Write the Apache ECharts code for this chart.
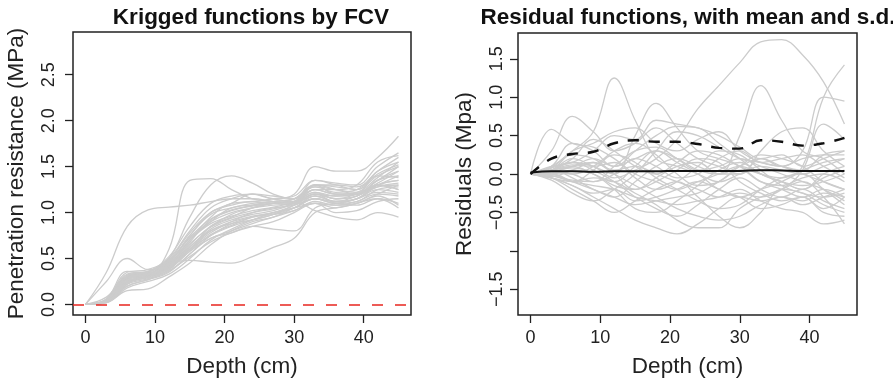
<!DOCTYPE html>
<html><head><meta charset="utf-8">
<script src="https://cdn.jsdelivr.net/npm/echarts@6/dist/echarts.min.js"></script>
<style>html,body{margin:0;padding:0;background:#fff}#c{width:893px;height:383px}</style>
</head><body><div id="c"></div>
<script>
const depth = [0,3,6,9,12,15,18,21,24,27,30,33,36,39,42,45];
const xTicks = [0,10,20,30,40];
const leftYTicks = [0,0.5,1,1.5,2,2.5];
const rightYTicks = [-1.5,-1,-0.5,0,0.5,1,1.5];
const rightYLabels = ['\u22121.5','','\u22120.5','0.0','0.5','1.0','1.5'];

const kriged = [
 [0,0.35,0.85,1.03,1.06,1.08,1.12,1.15,1.15,1.12,1.1,1.2,1.15,1.18,1.3,1.25],
 [0,0.08,0.3,0.32,0.6,1.35,1.37,1.25,1.15,1.12,1.1,1.3,1.25,1.2,1.35,1.45],
 [0,0.05,0.3,0.35,0.5,0.95,1.3,1.4,1.32,1.2,1.15,1.35,1.3,1.25,1.4,1.5],
 [0,0.03,0.22,0.35,0.45,0.48,0.46,0.45,0.52,0.62,0.72,1.0,1.05,1.1,1.2,1.3],
 [0,0.04,0.28,0.33,0.45,0.75,1.0,1.1,1.2,1.15,1.2,1.5,1.45,1.45,1.6,1.83],
 [0,0.03,0.25,0.3,0.42,0.7,0.9,1.05,1.08,1.1,1.12,1.02,0.95,0.92,1.0,0.95],
 [0,0.25,0.5,0.38,0.45,0.6,0.85,0.95,1.05,1.1,1.12,1.3,1.2,1.2,1.35,1.4],
 [0,0.03,0.2,0.27,0.35,0.55,0.72,0.78,0.85,0.82,0.8,1.05,1.1,1.15,1.3,1.35],
 [0,0.02,0.15,0.17,0.3,0.45,0.65,0.8,0.9,0.95,1.05,1.15,1.1,1.12,1.25,1.28],
 [0,0.05,0.32,0.35,0.48,0.72,0.9,1.0,1.05,1.1,1.12,1.25,1.2,1.22,1.38,1.55],
 [0,0.04,0.3,0.33,0.42,0.65,0.85,0.98,1.05,1.08,1.1,1.2,1.18,1.2,1.3,1.4],
 [0,0.06,0.35,0.38,0.5,0.8,1.05,1.15,1.2,1.18,1.15,1.3,1.3,1.28,1.45,1.6],
 [0,0.03,0.25,0.3,0.38,0.6,0.78,0.9,1.0,1.05,1.08,1.15,1.1,1.15,1.22,1.2],
 [0,0.04,0.28,0.32,0.4,0.62,0.82,0.92,0.98,1.02,1.1,1.22,1.15,1.18,1.3,1.35],
 [0,0.02,0.18,0.25,0.33,0.5,0.7,0.82,0.92,1.0,1.05,1.1,1.05,1.1,1.15,1.1],
 [0,0.05,0.3,0.36,0.47,0.7,0.95,1.1,1.12,1.15,1.18,1.35,1.32,1.3,1.5,1.65],
 [0,0.03,0.22,0.28,0.36,0.55,0.75,0.88,0.95,0.98,1.02,1.12,1.08,1.1,1.18,1.08],
 [0,0.04,0.27,0.31,0.43,0.68,0.92,1.02,1.08,1.12,1.15,1.28,1.22,1.25,1.42,1.52],
 [0,0.05,0.33,0.36,0.45,0.6,0.8,0.88,0.92,0.98,1.05,1.18,1.12,1.15,1.28,1.3],
 [0,0.02,0.2,0.27,0.38,0.58,0.72,0.8,0.88,0.95,1.02,1.1,1.0,1.02,1.12,1.15],
 [0,0.04,0.3,0.34,0.46,0.75,0.98,1.05,1.1,1.12,1.15,1.25,1.25,1.3,1.55,1.62],
 [0,0.03,0.26,0.3,0.41,0.63,0.8,0.9,0.96,1.0,1.08,1.18,1.12,1.15,1.25,1.22],
 [0,0.05,0.3,0.35,0.52,0.85,1.1,1.18,1.2,1.15,1.12,1.25,1.2,1.2,1.32,1.45],
 [0,0.03,0.24,0.29,0.37,0.52,0.68,0.78,0.85,0.9,1.0,1.1,1.08,1.12,1.2,1.18],
 [0,0.04,0.29,0.33,0.44,0.7,0.88,0.96,1.02,1.06,1.12,1.28,1.25,1.22,1.35,1.5],
 [0,0.06,0.36,0.34,0.48,0.78,1.0,1.08,1.12,1.1,1.12,1.22,1.18,1.2,1.4,1.38],
 [0,0.03,0.23,0.3,0.4,0.6,0.75,0.85,0.92,0.98,1.08,1.2,1.15,1.2,1.3,1.25],
 [0,0.04,0.31,0.35,0.47,0.73,0.93,1.03,1.07,1.1,1.15,1.3,1.28,1.25,1.45,1.55],
 [0,0.05,0.27,0.31,0.39,0.58,0.76,0.86,0.95,1.0,1.05,1.15,1.12,1.18,1.28,1.32],
 [0,0.03,0.25,0.3,0.44,0.66,0.84,0.94,1.0,1.04,1.1,1.2,1.1,1.08,1.15,1.05]
];

const residuals = [
 [0,0.05,0.15,0.1,-0.05,0.05,0.2,0.45,0.85,1.15,1.45,1.72,1.75,1.55,1.2,0.65],
 [0,0.1,0.3,0.55,1.25,0.7,0.2,0.1,0.0,-0.1,0.0,0.1,0.05,0.0,0.1,0.2],
 [0,0.0,-0.1,-0.2,-0.3,-0.1,0.1,0.2,0.1,0.0,0.5,1.15,0.7,0.3,0.2,0.0],
 [0,-0.05,-0.15,-0.25,-0.2,-0.35,-0.3,-0.2,-0.1,-0.2,-0.3,-0.2,-0.1,0.1,1.0,1.42],
 [0,0.05,0.1,0.0,-0.1,0.1,0.3,0.2,0.05,0.0,0.1,0.2,0.1,0.3,1.0,0.95],
 [0,0.05,0.2,0.1,0.0,0.5,0.92,0.6,0.3,0.2,0.1,-0.1,-0.2,-0.3,-0.2,-0.3],
 [0,0.58,0.4,0.35,0.2,0.0,-0.1,-0.2,-0.1,0.0,0.1,0.0,-0.1,-0.2,0.0,0.1],
 [0,0.3,0.75,0.55,0.3,0.4,0.6,0.4,0.2,0.1,0.0,0.2,0.1,0.0,-0.1,-0.2],
 [0,-0.05,-0.15,-0.3,-0.45,-0.6,-0.7,-0.78,-0.65,-0.45,-0.3,-0.35,-0.3,-0.4,-0.3,-0.2],
 [0,-0.02,-0.1,-0.15,-0.2,-0.3,-0.35,-0.4,-0.35,-0.3,-0.2,-0.35,-0.45,-0.5,-0.65,-0.6],
 [0,0.0,0.05,0.0,-0.15,-0.2,-0.05,0.1,0.15,0.0,0.0,0.3,0.55,0.6,0.3,0.1],
 [0,0.02,0.1,0.15,0.05,0.1,0.0,-0.1,-0.2,-0.3,-0.25,-0.3,-0.2,0.05,0.65,0.45],
 [0,0.1,0.15,0.3,0.5,0.45,0.7,0.65,0.6,0.5,0.35,0.2,0.25,0.1,0.2,0.3],
 [0,-0.05,-0.2,-0.35,-0.5,-0.35,-0.2,-0.1,-0.3,-0.55,-0.7,-0.5,-0.2,-0.25,-0.4,-0.5],
 [0,0.05,0.1,0.2,0.1,0.3,0.5,0.62,0.6,0.4,0.2,0.0,-0.1,-0.15,-0.1,0.0],
 [0,0.08,0.15,0.05,-0.1,-0.3,-0.45,-0.55,-0.4,-0.2,-0.05,-0.2,-0.3,-0.2,-0.35,-0.45],
 [0,-0.08,-0.25,-0.35,-0.2,0.0,0.3,0.55,0.5,0.35,0.2,0.15,0.1,0.2,0.25,0.25],
 [0,0.1,0.4,0.3,0.1,0.2,0.3,0.15,0.0,-0.2,-0.3,-0.45,-0.4,-0.3,-0.5,-0.55],
 [0,0.02,0.0,0.1,0.3,0.4,0.25,0.0,-0.15,-0.1,0.1,0.25,0.2,0.1,-0.1,-0.2],
 [0,0.05,-0.05,-0.2,-0.3,-0.4,-0.35,-0.3,-0.25,-0.1,0.05,-0.1,-0.15,-0.05,0.0,-0.1],
 [0,-0.03,0.05,0.15,0.0,-0.15,-0.3,-0.45,-0.55,-0.6,-0.55,-0.4,-0.3,-0.35,-0.25,-0.3],
 [0,0.05,0.2,0.45,0.3,0.1,0.0,0.15,0.3,0.25,0.1,0.0,-0.05,0.05,0.15,0.2],
 [0,-0.02,-0.08,-0.1,0.1,0.3,0.35,0.2,0.05,0.1,0.2,0.1,0.0,-0.1,-0.2,-0.35],
 [0,0.03,0.08,0.0,-0.2,-0.45,-0.5,-0.35,-0.15,0.05,0.15,0.0,-0.1,-0.2,-0.05,0.05],
 [0,0.0,-0.1,0.05,0.25,0.15,-0.05,-0.2,-0.35,-0.45,-0.4,-0.2,-0.05,0.0,-0.2,-0.4],
 [0,0.05,0.12,0.1,0.15,-0.05,-0.2,-0.1,0.1,0.3,0.25,0.05,-0.15,-0.25,-0.3,-0.25],
 [0,0.08,0.3,0.4,0.55,0.6,0.4,0.3,0.45,0.55,0.3,0.15,0.1,0.05,0.25,0.3],
 [0,-0.05,-0.1,-0.05,-0.1,-0.25,-0.4,-0.6,-0.7,-0.7,-0.45,-0.3,-0.2,-0.1,-0.3,-0.65],
 [0,0.03,0.0,-0.1,0.0,0.2,0.1,-0.05,0.0,0.2,0.3,0.15,0.2,0.25,0.1,-0.05],
 [0,0.05,0.25,0.2,0.0,-0.2,-0.1,0.05,0.2,0.15,-0.1,-0.25,-0.35,-0.3,-0.45,-0.3]
];

const meanResidual = [0.02,0.035,0.035,0.03,0.035,0.035,0.035,0.04,0.04,0.04,0.04,0.05,0.045,0.04,0.04,0.04];
const sdResidual = [0.0,0.2,0.26,0.29,0.4,0.44,0.42,0.42,0.39,0.34,0.33,0.44,0.42,0.37,0.4,0.47];

const FONT = '"Liberation Sans", Arial, Helvetica, sans-serif';
const GREY = '#cccccc';
const pts = arr => depth.map((d,i)=>[d, arr[i]]);

const series = [];
kriged.forEach((c,k)=>series.push({type:'line', xAxisIndex:0, yAxisIndex:0, data:pts(c), showSymbol:false, smooth:0.4,
  lineStyle:{color:GREY,width:1.3}, silent:true, z:2,
  markLine: k===0 ? {silent:true, symbol:'none', label:{show:false}, lineStyle:{color:'#e8261f',type:[11,12],width:1.6}, data:[{yAxis:0}], z:5} : undefined}));
residuals.forEach(c=>series.push({type:'line', xAxisIndex:1, yAxisIndex:1, data:pts(c), showSymbol:false, smooth:0.4,
  lineStyle:{color:GREY,width:1.3}, silent:true, z:2}));
series.push({type:'line', xAxisIndex:1, yAxisIndex:1, data:pts(meanResidual), showSymbol:false, smooth:0.4,
  lineStyle:{color:'#111',width:2}, z:4});
series.push({type:'line', xAxisIndex:1, yAxisIndex:1, data:pts(sdResidual), showSymbol:false, smooth:0.4,
  lineStyle:{color:'#111',width:2.4,type:[11,10]}, z:4});

const xAxisBase = (gi)=>({type:'value', gridIndex:gi, min:-1.8, max:46.8,
  axisLine:{show:false, onZero:false}, splitLine:{show:false},
  axisTick:{show:true, customValues:xTicks, length:8, lineStyle:{color:'#222',width:1.3}},
  axisLabel:{customValues:xTicks, fontFamily:FONT, fontSize:18, color:'#222', margin:14},
  name:'Depth (cm)', nameLocation:'middle', nameGap:40, nameMoveOverlap:false,
  nameTextStyle:{fontFamily:FONT, fontSize:22.5, color:'#222'}});

const chart = echarts.init(document.getElementById('c'), null, {renderer:'canvas'});
chart.setOption({
  animation:false,
  backgroundColor:'#fff',
  title:[
    {text:'Krigged functions by FCV', left:246, top:1, textAlign:'center',
     textStyle:{fontFamily:FONT, fontSize:22.5, fontWeight:'bold', color:'#111'}},
    {text:'Residual functions, with mean and s.d.', left:683, top:1, textAlign:'center',
     textStyle:{fontFamily:FONT, fontSize:22.5, fontWeight:'bold', color:'#111'}}
  ],
  grid:[
    {left:73, top:32, width:338, height:284, show:true, borderColor:'#222', borderWidth:1.5, backgroundColor:'transparent'},
    {left:518, top:33, width:339, height:285, show:true, borderColor:'#222', borderWidth:1.5, backgroundColor:'transparent'}
  ],
  xAxis:[xAxisBase(0), xAxisBase(1)],
  yAxis:[
    {type:'value', gridIndex:0, min:-0.115, max:2.965, axisLine:{show:false, onZero:false}, splitLine:{show:false},
     axisTick:{show:true, customValues:leftYTicks, length:8, lineStyle:{color:'#222',width:1.3}},
     axisLabel:{customValues:leftYTicks, rotate:90, formatter:v=>v.toFixed(1), fontFamily:FONT, fontSize:18, color:'#222', margin:15},
     name:'Penetration resistance (MPa)', nameLocation:'middle', nameGap:45, nameMoveOverlap:false,
     nameTextStyle:{fontFamily:FONT, fontSize:22.5, color:'#222'}},
    {type:'value', gridIndex:1, min:-1.836, max:1.836, axisLine:{show:false, onZero:false}, splitLine:{show:false},
     axisTick:{show:true, customValues:rightYTicks, length:8, lineStyle:{color:'#222',width:1.3}},
     axisLabel:{customValues:rightYTicks, rotate:90, formatter:v=>{const i=rightYTicks.findIndex(t=>Math.abs(t-v)<1e-9);return i>=0?rightYLabels[i]:'';}, fontFamily:FONT, fontSize:18, color:'#222', margin:12},
     name:'Residuals (Mpa)', nameLocation:'middle', nameGap:42, nameMoveOverlap:false,
     nameTextStyle:{fontFamily:FONT, fontSize:22.5, color:'#222'}}
  ],
  series:series
});
</script></body></html>
